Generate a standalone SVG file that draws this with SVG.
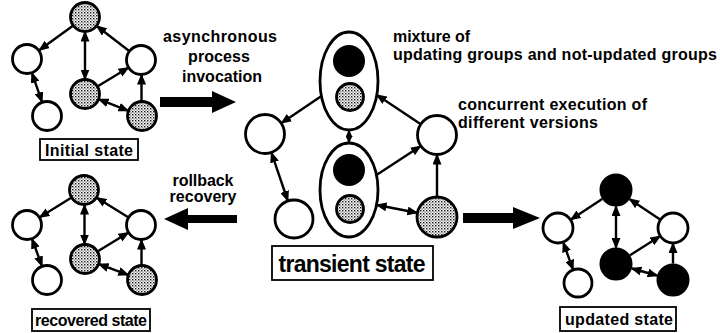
<svg xmlns="http://www.w3.org/2000/svg" width="720" height="333" viewBox="0 0 720 333">
<style>
text{font-family:"Liberation Sans",Arial,Helvetica,sans-serif;font-weight:bold;fill:#000}
.t{font-size:16px}
.lb{font-size:16px;text-anchor:middle}
.big{font-size:23px;text-anchor:middle}
.w{fill:#fff;stroke:#000;stroke-width:2.8}
.s{fill:url(#dots);stroke:#000;stroke-width:2.8}
.k{fill:#000;stroke:#000;stroke-width:2}
.box{fill:#fff;stroke:#000;stroke-width:1.8}
.c line{stroke:#000;stroke-width:2.4;fill:none}
.a{marker-end:url(#ah)}
.d{marker-start:url(#ah);marker-end:url(#ah)}
.bigarrow{fill:#000}
</style>
<defs>
<pattern id="dots" width="3" height="3" patternUnits="userSpaceOnUse">
<rect width="3" height="3" fill="#fff"/>
<rect x="0" y="0" width="1.4" height="1.4" fill="#111"/>
<rect x="1.5" y="1.5" width="1.2" height="1.2" fill="#555"/>
</pattern>
<marker id="ah" markerUnits="userSpaceOnUse" markerWidth="11" markerHeight="9" refX="9.5" refY="4.5" orient="auto-start-reverse">
<path d="M0,0 L11,4.5 L0,9 Z" fill="#000"/>
</marker>
<marker id="ahs" markerUnits="userSpaceOnUse" markerWidth="7" markerHeight="7" refX="6" refY="3.5" orient="auto-start-reverse">
<path d="M0,0 L7,3.5 L0,7 Z" fill="#000"/>
</marker>
</defs>

<!-- connectors -->
<g id="connectors" class="c">
<!-- initial -->
<line class="a" x1="73.3" y1="25.5" x2="39.5" y2="50"/>
<line class="a" x1="129.5" y1="51.2" x2="97" y2="26.2"/>
<line class="d" x1="85" y1="32" x2="85" y2="79"/>
<line class="a" x1="97.4" y1="86.5" x2="128.2" y2="67.8"/>
<line class="a" x1="141.5" y1="101.5" x2="141.5" y2="75"/>
<line class="d" x1="99" y1="99.4" x2="128" y2="110.6"/>
<line class="d" x1="32" y1="73.2" x2="42" y2="101.8"/>
<!-- recovered -->
<line class="a" x1="71.6" y1="197.6" x2="39.8" y2="217.2"/>
<line class="a" x1="128.6" y1="217.4" x2="96.8" y2="197.8"/>
<line class="d" x1="84.5" y1="205" x2="84.5" y2="244"/>
<line class="a" x1="97.4" y1="251.5" x2="128.2" y2="232.8"/>
<line class="a" x1="141.5" y1="265.5" x2="141.5" y2="240"/>
<line class="d" x1="99.1" y1="264.2" x2="127.9" y2="274.8"/>
<line class="d" x1="32.1" y1="239.1" x2="41.9" y2="265.9"/>
<!-- updated -->
<line class="a" x1="602.2" y1="199" x2="571" y2="219.5"/>
<line class="a" x1="660.1" y1="219.4" x2="629.7" y2="199.2"/>
<line class="d" x1="616" y1="206.5" x2="616" y2="247.5"/>
<line class="a" x1="630" y1="255.2" x2="659.9" y2="236.3"/>
<line class="a" x1="673" y1="263.5" x2="673" y2="243.5"/>
<line class="d" x1="631.9" y1="268.5" x2="657.1" y2="275.5"/>
<line class="d" x1="563.3" y1="242.6" x2="573" y2="269.4"/>
<!-- transient -->
<line class="a" x1="321.5" y1="96" x2="281.6" y2="122.9"/>
<line class="a" x1="420.8" y1="124.2" x2="377" y2="95"/>
<line x1="349" y1="131" x2="349" y2="142" marker-start="url(#ahs)" marker-end="url(#ahs)"/>
<line class="a" x1="376.5" y1="175" x2="420.4" y2="146.2"/>
<line class="a" x1="437" y1="197" x2="437" y2="155"/>
<line class="d" x1="377" y1="205" x2="416.9" y2="212.8"/>
<line class="d" x1="271.5" y1="152.9" x2="287.7" y2="200.5"/>
<!-- big arrows -->
<polygon class="bigarrow" points="160,97 212,97 212,91 236,102 212,113 212,107 160,107"/>
<polygon class="bigarrow" points="237,215 188,215 188,208 164,219 188,230 188,223 237,223"/>
<polygon class="bigarrow" points="463,213 513,213 513,207 540,218 513,229 513,223 463,223"/>
</g>

<!-- initial state -->
<g id="initial">
<circle id="i-top" class="s" cx="85" cy="17" r="14.5"/>
<circle id="i-left" class="w" cx="27" cy="59" r="14.5"/>
<circle id="i-right" class="w" cx="141" cy="60" r="14.5"/>
<circle id="i-mid" class="s" cx="85" cy="94" r="14.5"/>
<circle id="i-bl" class="w" cx="47" cy="116" r="14.5"/>
<circle id="i-br" class="s" cx="142" cy="116" r="14.5"/>
<g id="i-label"><rect class="box" x="40" y="139" width="98" height="21"/>
<text class="lb" x="89" y="155.5" textLength="88" lengthAdjust="spacing">Initial state</text></g>
</g>

<!-- recovered state -->
<g id="recovered">
<circle id="r-top" class="s" cx="84" cy="190" r="14.5"/>
<circle id="r-left" class="w" cx="27" cy="225" r="14.5"/>
<circle id="r-right" class="w" cx="141" cy="225" r="14.5"/>
<circle id="r-mid" class="s" cx="85" cy="259" r="14.5"/>
<circle id="r-bl" class="w" cx="47" cy="280" r="14.5"/>
<circle id="r-br" class="s" cx="142" cy="280" r="14.5"/>
<g id="r-label"><rect class="box" x="32" y="309" width="118" height="22"/>
<text class="lb" x="91" y="326" textLength="112" lengthAdjust="spacing">recovered state</text></g>
</g>

<!-- updated state -->
<g id="updated">
<circle id="u-top" class="k" cx="616" cy="190" r="15.5"/>
<circle id="u-left" class="w" cx="558" cy="228" r="15"/>
<circle id="u-right" class="w" cx="673" cy="228" r="15"/>
<circle id="u-mid" class="k" cx="616" cy="264" r="15.5"/>
<circle id="u-bl" class="w" cx="578" cy="283" r="14"/>
<circle id="u-br" class="k" cx="673" cy="280" r="15.5"/>
<g id="u-label"><rect class="box" x="560" y="307" width="116" height="24"/>
<text class="lb" x="619" y="325" textLength="108" lengthAdjust="spacing">updated state</text></g>
</g>

<!-- transient state -->
<g id="transient">
<g id="t-group1">
<ellipse class="w" cx="349" cy="81" rx="29" ry="49"/>
<circle class="k" cx="349" cy="61" r="15"/>
<circle class="s" cx="350" cy="97" r="13.5"/>
</g>
<g id="t-group2">
<ellipse class="w" cx="349" cy="190" rx="29" ry="47"/>
<circle class="k" cx="349" cy="170" r="15"/>
<circle class="s" cx="350" cy="209" r="13.5"/>
</g>
<circle id="t-left" class="w" cx="265" cy="134" r="19.5"/>
<circle id="t-right" class="w" cx="437" cy="135" r="19.5"/>
<circle id="t-bl" class="w" cx="294" cy="219" r="19"/>
<circle id="t-br" class="s" cx="437" cy="217" r="20"/>
<g id="t-label"><rect class="box" x="272" y="246" width="161" height="34" stroke-width="2.2"/>
<text class="big" x="352" y="272" textLength="147" lengthAdjust="spacing">transient state</text></g>
</g>

<!-- annotations -->
<g id="labels">
<text class="lb" x="220" y="42" textLength="114" lengthAdjust="spacing">asynchronous</text>
<text class="lb" x="219" y="62" textLength="62" lengthAdjust="spacing">process</text>
<text class="lb" x="222" y="82" textLength="80" lengthAdjust="spacing">invocation</text>
<text class="lb" x="203" y="186" textLength="61" lengthAdjust="spacing">rollback</text>
<text class="lb" x="203" y="202" textLength="67" lengthAdjust="spacing">recovery</text>
<text class="t" x="393" y="42" textLength="77" lengthAdjust="spacing">mixture of</text>
<text class="t" x="393" y="60" textLength="324" lengthAdjust="spacing">updating groups and not-updated groups</text>
<text class="t" x="458" y="110" textLength="189" lengthAdjust="spacing">concurrent execution of</text>
<text class="t" x="458" y="128" textLength="140" lengthAdjust="spacing">different versions</text>
</g>
</svg>
